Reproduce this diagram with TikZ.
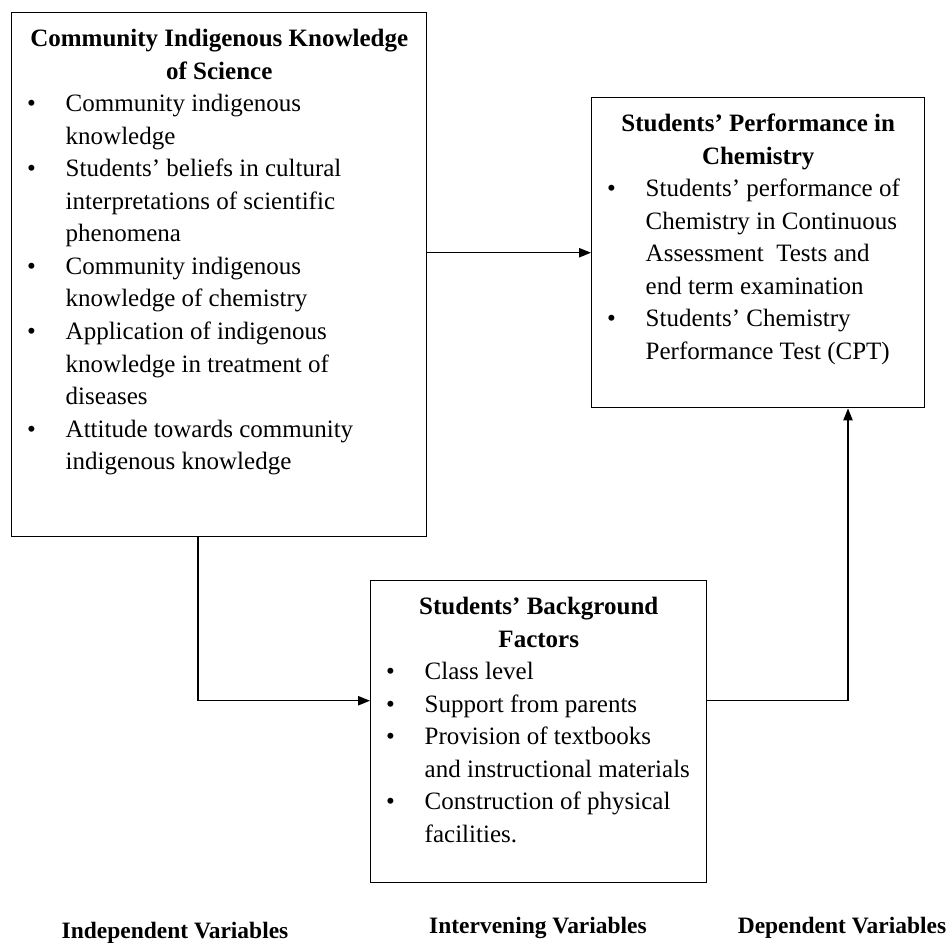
\documentclass[tikz,border=0pt]{standalone}
\usepackage{fontspec}
\setmainfont{Liberation Serif}
\usetikzlibrary{positioning,arrows.meta,calc}

\newcommand{\boxtext}[3]{\begin{minipage}[t][#2][t]{#1}\fontsize{18.75}{24.4}\selectfont #3\end{minipage}}
\newcommand{\boxtitle}[1]{{\centering\bfseries\rule{0pt}{25.5pt}#1\par}}
\newcommand{\bul}[1]{\par\noindent\hangindent=40.5pt\hangafter=1\makebox[40.5pt][l]{\hspace{11.5pt}\textbullet}{\let\\\newline#1}\par}

\begin{document}
\begin{tikzpicture}[x=0.75pt,y=-0.75pt,
  box/.style={draw,line width=1.1pt,inner sep=0pt,anchor=north west},
  arr/.style={line width=1.1pt,-{Triangle[length=9pt,width=7pt]}},
  lab/.style={font=\fontsize{17.6}{20}\selectfont\bfseries}]
\useasboundingbox (0,0) rectangle (949,944);
\node[box] (lbox) at (11,12) {\boxtext{311.25pt}{393pt}{%
  \boxtitle{Community Indigenous Knowledge\\of Science}
  \bul{Community indigenous\\knowledge}
  \bul{Students’ beliefs in cultural\\interpretations of scientific\\phenomena}
  \bul{Community indigenous\\knowledge of chemistry}
  \bul{Application of indigenous\\knowledge in treatment of\\diseases}
  \bul{Attitude towards community\\indigenous knowledge}}};
\node[box] (rbox) at (591,97) {\boxtext{249.75pt}{232.5pt}{%
  \boxtitle{Students’ Performance in\\Chemistry}
  \bul{Students’ performance of\\Chemistry in Continuous\\Assessment\ \ Tests and\\end term examination}
  \bul{Students’ Chemistry\\Performance Test (CPT)}}};
\node[box] (bbox) at (370,580) {\boxtext{252pt}{226.5pt}{%
  \boxtitle{Students’ Background\\Factors}
  \bul{Class level}
  \bul{Support from parents}
  \bul{Provision of textbooks\\and instructional materials}
  \bul{Construction of physical\\facilities.}}};
\node[lab] (indlab) at (175,933) {Independent Variables};
\node[lab] (intlab) at (538,928) {Intervening Variables};
\node[lab] (deplab) at (842,928) {Dependent Variables};
\draw[arr] (lbox.east |- rbox.west) -- (rbox.west);
\draw[arr] ($(lbox.south west)+(187,0)$) |- ($(bbox.west)+(0,-31)$);
\draw[arr] ($(bbox.east)+(0,-31)$) -| ($(rbox.south west)+(257,0)$);
\end{tikzpicture}
\end{document}
